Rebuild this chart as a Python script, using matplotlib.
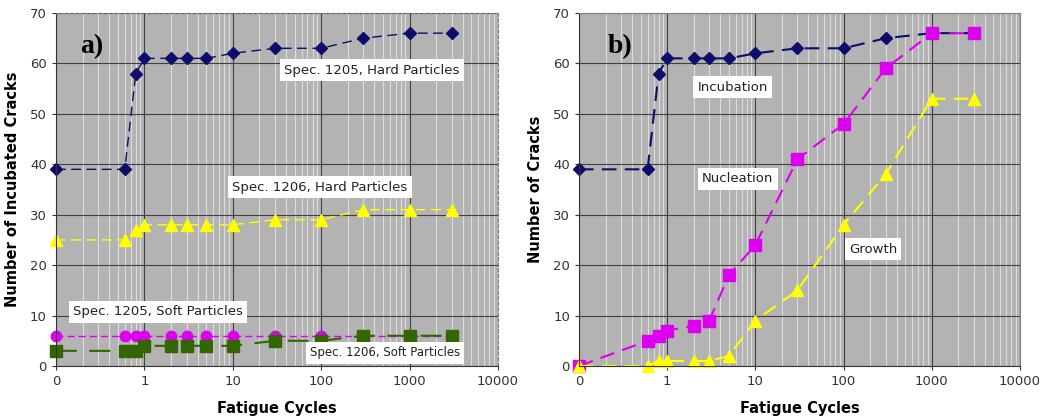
import matplotlib
matplotlib.use("Agg")
from matplotlib import pyplot as plt
from matplotlib.ticker import FixedLocator, LogLocator, NullFormatter

# циклы нагружения
cycles = [0.1, 0.6, 0.8, 1, 2, 3, 5, 10, 30, 100, 300, 1000, 3000]

# a) число инкубированных трещин
hard_1205 = [39, 39, 58, 61, 61, 61, 61, 62, 63, 63, 65, 66, 66]
hard_1206 = [25, 25, 27, 28, 28, 28, 28, 28, 29, 29, 31, 31, 31]
soft_1205 = [6, 6, 6, 6, 6, 6, 6, 6, 6, 6, 6, 6, 6]
soft_1206 = [3, 3, 3, 4, 4, 4, 4, 4, 5, 5, 6, 6, 6]

# b) стадии
incubation = [39, 39, 58, 61, 61, 61, 61, 62, 63, 63, 65, 66, 66]
nucleation = [0, 5, 6, 7, 8, 9, 18, 24, 41, 48, 59, 66, 66]
growth = [0, 0, 1, 1, 1, 1, 2, 9, 15, 28, 38, 53, 53]

x_ticks = [0.1, 1, 10, 100, 1000, 10000]
x_labels = ["0", "1", "10", "100", "1000", "10000"]

NAVY = "#0d0d6b"
YELLOW = "#ffff00"
MAGENTA = "#dd00f0"
GREEN = "#336600"


def style_axes(ax, ylabel, dashed_frame):
    ax.set_xscale("log")
    ax.set_xlim(0.1, 10000)
    ax.set_ylim(0, 70)
    ax.set_facecolor("#b3b3b3")
    ax.xaxis.set_major_locator(FixedLocator(x_ticks))
    ax.set_xticklabels(x_labels)
    ax.xaxis.set_minor_locator(LogLocator(base=10, subs=range(2, 10)))
    ax.xaxis.set_minor_formatter(NullFormatter())
    ax.set_yticks(range(0, 71, 10))
    ax.grid(True, which="minor", axis="x", color="#dcdcdc", lw=0.8)
    ax.grid(True, which="major", color="#404040", lw=0.8)
    ax.set_axisbelow(True)
    ax.tick_params(labelsize=9.5, colors="#333333", length=3)
    ax.tick_params(which="minor", length=0)
    for s in ("top", "right"):
        ax.spines[s].set_color("#808080")
        if dashed_frame:
            ax.spines[s].set_linestyle((0, (3, 2)))
    for s in ("left", "bottom"):
        ax.spines[s].set_color("#333333")
    ax.set_xlabel("Fatigue Cycles", fontsize=10.5, fontweight="bold", labelpad=9)
    ax.set_ylabel(ylabel, fontsize=10.5, fontweight="bold", labelpad=7)


def label(ax, x, y, txt, size=9.5):
    ax.text(x, y, txt, transform=ax.transAxes, ha="center", va="center",
            fontsize=size, color="#222222",
            bbox=dict(facecolor="white", edgecolor="none", pad=3))


fig = plt.figure(figsize=(10.5, 4.19), dpi=100)
ax1 = fig.add_axes([0.0533, 0.1265, 0.4209, 0.8425])
ax2 = fig.add_axes([0.5514, 0.1265, 0.42, 0.8425])

style_axes(ax1, "Number of Incubated Cracks", True)
ax1.plot(cycles, hard_1205, color=NAVY, lw=1, dashes=(7, 4), marker="D", ms=6, clip_on=False)
ax1.plot(cycles, hard_1206, color=YELLOW, lw=1, dashes=(7, 4), marker="^", ms=8, clip_on=False)
ax1.plot(cycles, soft_1205, color=MAGENTA, lw=1, dashes=(5, 3), marker="o", ms=7.5, clip_on=False)
ax1.plot(cycles, soft_1206, color=GREEN, lw=1.5, dashes=(10, 6), marker="s", ms=8, clip_on=False)
label(ax1, 0.715, 0.838, "Spec. 1205, Hard Particles")
label(ax1, 0.597, 0.507, "Spec. 1206, Hard Particles")
label(ax1, 0.231, 0.153, "Spec. 1205, Soft Particles")
label(ax1, 0.744, 0.037, "Spec. 1206, Soft Particles", size=8.5)
ax1.text(0.081, 0.905, "a)", transform=ax1.transAxes, ha="center", va="center",
         fontsize=20, fontweight="bold", family="Liberation Serif")

style_axes(ax2, "Number of Cracks", False)
ax2.plot(cycles, incubation, color=NAVY, lw=1.5, dashes=(7, 4), marker="D", ms=6, clip_on=False)
ax2.plot(cycles, nucleation, color=MAGENTA, lw=1.5, dashes=(7, 4), marker="s", ms=8, clip_on=False)
ax2.plot(cycles, growth, color=YELLOW, lw=1.5, dashes=(7, 4), marker="^", ms=8, clip_on=False)
label(ax2, 0.349, 0.79, "Incubation")
label(ax2, 0.36, 0.53, "Nucleation")
label(ax2, 0.667, 0.331, "Growth")
ax2.text(0.093, 0.905, "b)", transform=ax2.transAxes, ha="center", va="center",
         fontsize=20, fontweight="bold", family="Liberation Serif")

fig.savefig("out.png", dpi=100)
